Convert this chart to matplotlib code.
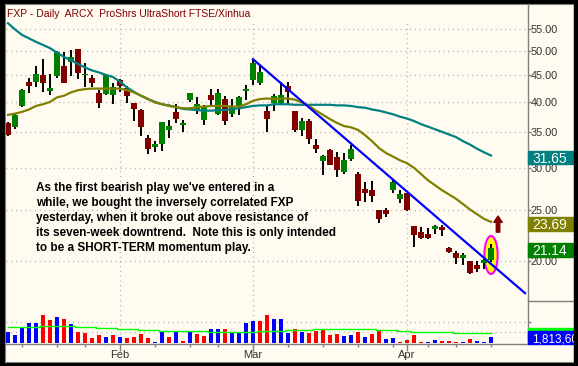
import numpy as np
import matplotlib.pyplot as plt
from matplotlib.patches import Ellipse, Rectangle
from matplotlib.ticker import FixedLocator, NullLocator, FuncFormatter, NullFormatter

W, H = 578, 366
CREAM = "#FFFBF0"
plt.rcParams["font.family"] = ["Liberation Sans", "DejaVu Sans"]

# FXP daily bars, 8 Jan .. 20 Apr 2009 (x = trading day index)
opens = [36.5, 35.9, 39.3, 43.7, 43.65, 45.0, 41.9, 44.8, 46.7, 47.7,
         50.3, 44.9, 44.35, 41.55, 41.35, 41.2, 44.0, 42.5, 39.9, 38.6,
         34.1, 32.8, 33.25, 35.4, 38.3, 36.1, 40.35, 38.6, 37.0, 41.2,
         38.0, 40.5, 38.0, 39.2, 41.9, 44.0, 43.5, 38.45, 39.9, 39.8,
         42.9, 38.45, 35.4, 36.8, 33.1, 30.95, 32.4, 31.4, 29.5, 31.15,
         29.2, 27.3, 27.2, 24.9, 24.9, 27.2, 26.2, 26.84, 23.27, 22.7,
         22.5, 23.0, 23.15, 21.1, 20.7, 20.2, 19.97, 19.6, 19.78, 20.06]
highs = [36.6, 38.0, 42.4, 44.5, 46.7, 48.2, 45.2, 50.0, 49.8, 50.1,
         50.5, 47.4, 45.0, 42.1, 45.2, 43.4, 44.3, 42.9, 39.9, 38.7,
         34.6, 33.7, 36.6, 37.0, 39.6, 37.0, 41.6, 40.9, 39.5, 42.3,
         42.4, 41.0, 40.5, 41.0, 43.0, 48.3, 47.0, 39.3, 41.4, 43.65,
         43.65, 38.5, 37.3, 37.1, 34.0, 31.7, 32.5, 32.2, 32.0, 33.1,
         29.5, 28.15, 28.35, 25.0, 25.2, 28.55, 27.2, 26.9, 23.3, 23.15,
         23.1, 23.4, 23.4, 21.25, 20.9, 20.65, 20.0, 19.95, 20.1, 21.55]
lows = [34.4, 35.5, 39.2, 41.6, 42.65, 41.8, 41.2, 44.35, 43.4, 44.8,
        44.2, 42.65, 42.65, 39.0, 41.2, 39.65, 41.8, 39.9, 36.8, 34.5,
        31.8, 32.2, 32.3, 34.2, 36.45, 35.0, 40.0, 38.0, 36.2, 39.2,
        37.8, 36.2, 37.5, 37.8, 40.35, 43.0, 43.0, 35.0, 38.5, 39.5,
        39.5, 35.0, 34.5, 33.3, 32.0, 29.1, 30.4, 28.8, 29.2, 30.9,
        25.4, 25.8, 25.8, 23.6, 24.2, 26.9, 25.75, 24.8, 21.2, 21.95,
        21.95, 22.5, 22.3, 20.7, 19.7, 19.6, 18.9, 19.0, 19.3, 19.9]
closes = [34.6, 37.8, 42.2, 42.8, 45.2, 43.4, 42.5, 49.8, 43.5, 48.6,
          45.3, 45.2, 43.4, 39.9, 45.0, 42.65, 42.9, 41.1, 38.8, 35.9,
          32.5, 33.3, 36.6, 36.0, 37.1, 36.5, 41.55, 39.65, 39.2, 40.35,
          41.6, 36.8, 39.3, 40.8, 42.4, 47.5, 45.5, 37.05, 41.0, 41.2,
          41.8, 35.4, 36.8, 34.0, 32.6, 31.6, 30.4, 29.7, 31.05, 32.5,
          26.0, 26.9, 26.5, 24.0, 24.5, 28.15, 26.7, 25.0, 22.4, 22.1,
          22.1, 23.27, 22.9, 20.8, 20.2, 20.5, 18.98, 19.3, 20.06, 21.14]

# moving averages
ma_teal = [56.4, 54.9, 53.6, 52.8, 52.0, 51.3, 50.6, 49.6, 48.7, 48.0,
           47.2, 46.5, 45.9, 45.5, 45.0, 44.6, 43.7, 42.6, 41.8, 41.1,
           40.5, 40.0, 39.6, 39.4, 39.1, 38.8, 38.7, 38.6, 38.5, 38.5,
           38.6, 38.6, 38.8, 38.9, 39.1, 39.3, 39.4, 39.4, 39.6, 39.6,
           39.6, 39.5, 39.5, 39.5, 39.5, 39.5, 39.5, 39.4, 39.4, 39.3,
           39.1, 39.0, 38.7, 38.5, 38.2, 37.9, 37.5, 37.2, 36.8, 36.3,
           35.9, 35.5, 35.1, 34.7, 34.3, 33.7, 33.2, 32.6, 32.1, 31.65]
ma_olive = [37.8, 38.0, 38.3, 38.7, 39.3, 39.6, 40.0, 40.8, 41.1, 41.7,
            42.1, 42.3, 42.4, 42.4, 42.4, 42.4, 42.4, 42.1, 41.7, 41.1,
            40.5, 39.9, 39.6, 39.3, 39.1, 38.9, 38.9, 39.1, 39.2, 39.3,
            39.3, 39.3, 39.2, 39.2, 39.6, 40.2, 40.5, 40.6, 40.5, 40.6,
            40.6, 40.4, 39.9, 39.3, 38.5, 37.8, 37.1, 36.5, 36.0, 35.8,
            35.4, 34.6, 33.7, 32.7, 32.0, 31.5, 31.0, 30.6, 30.0, 29.2,
            28.4, 27.8, 27.2, 26.7, 26.2, 25.6, 25.0, 24.5, 24.0, 23.69]

# volume in millions, b = up day, r = down day
volume = [3.41, 2.42, 4.62, 6.13, 6.13, 8.55, 7.04, 7.94, 7.34, 5.83,
          3.41, 3.11, 1.51, 2.51, 1.90, 2.51, 1.90, 1.60, 1.90, 2.81,
          1.60, 0.39, 3.41, 1.90, 3.41, 0.69, 3.62, 2.81, 2.11, 4.23,
          4.23, 4.23, 3.02, 3.32, 6.04, 6.64, 6.64, 8.46, 7.25, 7.25,
          3.02, 4.23, 3.32, 3.02, 3.62, 3.93, 2.42, 2.72, 2.11, 2.42,
          3.32, 1.81, 2.72, 3.93, 1.21, 1.51, 0.39, 0.91, 2.42, 0.39,
          0.39, 0.91, 0.60, 0.60, 0.39, 0.39, 1.21, 0.60, 0.39, 1.8136]
vol_dir = ("bbbbbrrbrb" "rrrrbrbrrr" "rbbrbrbrrb" "brbbbbrrbb" "brbrrrrrbb"
           "rbrrbbrrrr" "bbrrrbrbbb")
vol_avg = [4.74] * 5 + [5.13] * 5 + [4.74] * 3 + [4.44] * 3 + [4.14] * 3 + \
          [3.84] * 3 + [3.53] * 7 + [3.23] * 7 + [3.53] * 4 + [3.84] * 4 + \
          [4.14] * 9 + [3.84] * 3 + [3.53] * 2 + [3.23] * 6 + [2.93] * 6

month_pos = [16, 35, 57]
month_lbl = ["Feb", "Mar", "Apr"]
week_pos = [2, 7, 11, 16, 21, 26, 30, 35, 40, 45, 50, 55, 57, 60, 64, 69]
price_ticks = [20, 25, 30, 35, 40, 45, 50, 55]
vol_grid = [3.23, 6.25]

trend_x = [35, 73.86]
trend_y = [48.2, 17.35]

last_px = [(31.65, "#008080"), (23.69, "#808000"), (21.14, "#008000")]

title = "FXP - Daily  ARCX  ProShrs UltraShort FTSE/Xinhua"
note = [
    "As the first bearish play we've entered in a",
    "while, we bought the inversely correlated FXP",
    "yesterday, when it broke out above resistance of",
    "its seven-week downtrend.  Note this is only intended",
    "to be a SHORT-TERM momentum play.",
]


def box(x0, y0, x1, y1):
    # pixel box, origin top-left -> figure rect
    return [x0 / W, 1 - y1 / H, (x1 - x0) / W, (y1 - y0) / H]


fig = plt.figure(figsize=(W / 100, H / 100), dpi=100, facecolor="black")

bg = fig.add_axes(box(5, 4, 574, 362))
bg.set_facecolor(CREAM)
bg.set_xticks([])
bg.set_yticks([])
for s in bg.spines.values():
    s.set_color("#808080")

ax = fig.add_axes(box(6, 4, 527.5, 300))
axv = fig.add_axes(box(6, 300, 527.5, 344), sharex=ax)
for a in (ax, axv):
    a.patch.set_alpha(0)
    for k, s in a.spines.items():
        s.set_visible(k == "right")
        s.set_color("#808080")
        s.set_linewidth(1)
axv.spines["bottom"].set_visible(True)
axv.spines["bottom"].set_color("#808080")

dotted = (0, (0.72, 2.7))
x = np.arange(len(closes))
o, hi, lo, c = map(np.array, (opens, highs, lows, closes))

# price panel
ax.set_yscale("log")
ax.set_xlim(-0.2857, 74.21)
ax.set_ylim(16.84, 61.35)
ax.vlines(x, lo, hi, color="black", lw=1.4, zorder=3)
ax.bar(x, np.abs(c - o), bottom=np.minimum(o, c), width=0.8, lw=0,
       color=np.where(c >= o, "#008000", "#800000"), zorder=4)
ax.plot(x, ma_teal, color="#008080", lw=1.6, zorder=5)
ax.plot(x, ma_olive, color="#808000", lw=1.6, zorder=5)
ax.plot(trend_x, trend_y, color="#0000FF", lw=1.6, zorder=6)

ax.yaxis.tick_right()
ax.yaxis.set_major_locator(FixedLocator(price_ticks))
ax.yaxis.set_minor_locator(NullLocator())
ax.yaxis.set_major_formatter(FuncFormatter(lambda v, p: f"{v:.2f}"))
ax.yaxis.set_minor_formatter(NullFormatter())
ax.tick_params(axis="y", which="major", length=2.5, width=1, pad=0,
               color="#808080", labelcolor="#333333", labelsize=7.8)
ax.tick_params(axis="x", which="both", bottom=False, labelbottom=False)
ax.grid(axis="y", color="#B0B0B0", lw=1, ls=dotted)
for m in month_pos:
    ax.axvline(m, ymax=(300 - 20) / 296, color="#B0B0B0", lw=1, ls=dotted, zorder=1)
    axv.axvline(m, color="#B0B0B0", lw=1, ls=dotted, zorder=1)

# breakout candle highlight and arrow
tr = ax.transData + ax.transAxes.inverted()
cx, cy = tr.transform((69, 20.5))
ax.add_patch(Ellipse((cx, cy), 13.3 / 521.5, 38 / 296, transform=ax.transAxes,
                     facecolor="#FFFF00", edgecolor="#FF00FF", lw=1.5, zorder=2))
ax.annotate("", xy=(70, 24.3), xytext=(70, 22.65),
            arrowprops=dict(arrowstyle="simple,head_length=0.45,head_width=0.6,tail_width=0.25",
                            color="#800000", shrinkA=0, shrinkB=0, mutation_scale=10))

# volume panel
axv.set_ylim(-0.3, 12.99)
axv.bar(x, volume, width=0.45, lw=0,
        color=["#0000FF" if d == "b" else "#FF0000" for d in vol_dir], zorder=3)
axv.plot(x, vol_avg, drawstyle="steps-mid", color="#00FF00", lw=1.0, zorder=4)
axv.yaxis.tick_right()
axv.set_yticks(vol_grid)
axv.yaxis.set_major_formatter(NullFormatter())
axv.tick_params(axis="y", length=2.5, width=1, color="#808080")
axv.grid(axis="y", color="#B0B0B0", lw=1, ls=dotted)
axv.set_xticks(month_pos)
axv.set_xticklabels(month_lbl)
axv.set_xticks(week_pos, minor=True)
axv.tick_params(axis="x", which="major", length=5, width=1, pad=-0.5,
                color="#808080", labelcolor="#333333", labelsize=8)
axv.tick_params(axis="x", which="minor", length=2.2, width=1, color="#808080")

# texts
fig.text(7 / W, 1 - 17.3 / H, title, color="#800000", fontsize=7.5, va="baseline")
for k, line in enumerate(note):
    fig.text(35.7 / W, 1 - (191.2 + 15 * k) / H, line, color="black",
             fontsize=8.5, fontweight="bold", va="baseline")


def fig_y(a, v):
    return fig.transFigure.inverted().transform(a.transData.transform((0, v)))[1]


# last value flags on the right axis
for val, col in last_px:
    yc = fig_y(ax, val) - 2 / H
    fig.add_artist(Rectangle((528 / W, yc - 6.8 / H), 50 / W, 13.6 / H,
                             transform=fig.transFigure, color=col, zorder=5))
    fig.text(532 / W, yc, f"{val:.2f}", color="white", fontsize=10,
             va="center_baseline", zorder=6)

yc = fig_y(axv, vol_avg[-1]) - 1 / H
fig.add_artist(Rectangle((528 / W, yc - 6.8 / H), 50 / W, 13.6 / H,
                         transform=fig.transFigure, color="#00FF00", zorder=5))
yc = fig_y(axv, volume[-1]) - 0.5 / H
fig.add_artist(Rectangle((528 / W, yc - 6.8 / H), 50 / W, 13.6 / H,
                         transform=fig.transFigure, color="#0000FF", zorder=6))
fig.text(532 / W, yc, f"{volume[-1] * 1e6:,.0f}", color="white", fontsize=8.5,
         va="center_baseline", zorder=7)
fig.add_artist(Rectangle(((578 - 4) / W, 0), 4 / W, 1, transform=fig.transFigure,
                         color="black", zorder=10))
# price / volume split on the axis strip
fig.add_artist(plt.Line2D([527.5 / W, 574 / W], [1 - 300.5 / H] * 2,
                          color="#808080", lw=1, zorder=4))

fig.savefig("out.png", dpi=100, facecolor="black")
